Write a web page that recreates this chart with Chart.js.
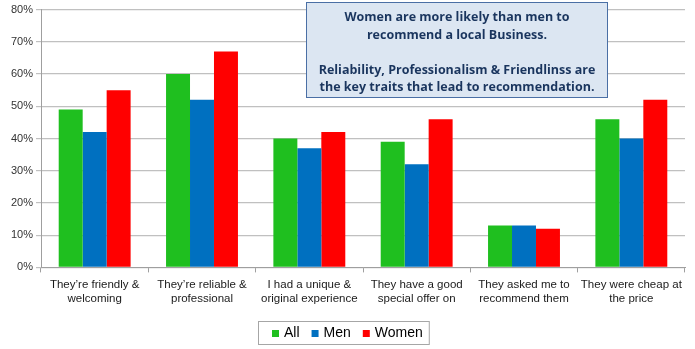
<!DOCTYPE html>
<html>
<head>
<meta charset="utf-8">
<script src="https://cdn.jsdelivr.net/npm/chart.js@4"></script>
<style>
  html, body { margin: 0; padding: 0; background: #fff; }
  #wrap { width: 695px; height: 349px; position: relative; }
</style>
</head>
<body>
<div id="wrap"><canvas id="c" width="695" height="349"></canvas></div>
<script>
// Reasons people give for recommending a local business
const categories = [
  ["They\u2019re friendly &", "welcoming"],
  ["They\u2019re reliable &", "professional"],
  ["I had a unique &", "original experience"],
  ["They have a good", "special offer on"],
  ["They asked me to", "recommend them"],
  ["They were cheap at", "the price"]
];
const seriesNames = ["All", "Men", "Women"];
const allValues   = [49, 60, 40, 39, 13, 46];
const menValues   = [42, 52, 37, 32, 13, 40];
const womenValues = [55, 67, 42, 46, 12, 52];
const yTicks = [0, 10, 20, 30, 40, 50, 60, 70, 80];
const noteLines = [
  "Women are more likely than men to",
  "recommend a local Business.",
  "",
  "Reliability, Professionalism & Friendlinss are",
  "the key traits that lead to recommendation."
];

const colors = ["#1FBF1F", "#0070C0", "#FF0000"];
const legendFont = "14px 'Liberation Sans', 'Open Sans', sans-serif";

// Callout box in the upper right and a framed legend below the axis
const decorations = {
  id: "decorations",
  afterDraw(chart) {
    const ctx = chart.ctx;

    // legend: square swatch + series name, centred under the chart
    ctx.save();
    ctx.font = legendFont;
    const sw = 7, gap = 5, itemGap = 12;
    const items = chart.data.datasets.map(d => ({
      text: d.label, color: d.backgroundColor, w: ctx.measureText(d.label).width
    }));
    const total = items.reduce((s, it) => s + sw + gap + it.w, 0) + itemGap * (items.length - 1);
    let lx = Math.round(chart.width / 2 - total / 2);
    const ly = 333;
    ctx.strokeStyle = "#A6A6A6";
    ctx.lineWidth = 1;
    ctx.strokeRect(lx - 13.5, ly - 11.5, total + 20, 23);
    ctx.textBaseline = "middle";
    ctx.textAlign = "left";
    items.forEach(it => {
      ctx.fillStyle = it.color;
      ctx.fillRect(lx, ly - 3, sw, sw);
      ctx.fillStyle = "#000";
      ctx.fillText(it.text, lx + sw + gap, ly);
      lx += sw + gap + it.w + itemGap;
    });
    ctx.restore();

    // note box
    const x = 306.5, y = 2.5, w = 301, h = 95;
    ctx.save();
    ctx.fillStyle = "#DCE6F2";
    ctx.fillRect(x, y, w, h);
    ctx.strokeStyle = "#4A6FA5";
    ctx.lineWidth = 1;
    ctx.strokeRect(x, y, w, h);
    ctx.fillStyle = "#1A355E";
    ctx.font = "bold 12.5px 'Open Sans', 'Liberation Sans', sans-serif";
    ctx.textAlign = "center";
    ctx.textBaseline = "middle";
    const lh = 17.5;
    noteLines.forEach((t, i) => {
      if (t) ctx.fillText(t, x + w / 2, y + 15 + i * lh);
    });
    ctx.restore();
  }
};

new Chart(document.getElementById("c"), {
  type: "bar",
  data: {
    labels: categories,
    datasets: [
      { label: seriesNames[0], data: allValues,   backgroundColor: colors[0] },
      { label: seriesNames[1], data: menValues,   backgroundColor: colors[1] },
      { label: seriesNames[2], data: womenValues, backgroundColor: colors[2] }
    ]
  },
  options: {
    responsive: false,
    animation: false,
    events: [],
    layout: { padding: { top: 2, right: 10, bottom: 37, left: 0 } },
    datasets: { bar: { categoryPercentage: 0.67, barPercentage: 1.0, borderWidth: 0 } },
    scales: {
      x: {
        offset: true,
        grid: {
          offset: true,
          drawOnChartArea: false,
          drawTicks: true,
          tickLength: 5,
          color: "#9F9F9F"
        },
        border: { color: "#9F9F9F", width: 1 },
        ticks: {
          color: "#1a1a1a",
          font: { family: "'Liberation Sans', 'Open Sans', sans-serif", size: 11.5 },
          maxRotation: 0,
          autoSkip: false,
          padding: 6
        }
      },
      y: {
        min: 0,
        max: 80,
        afterFit(scale) { scale.width = 41; },
        afterBuildTicks(scale) { scale.ticks = yTicks.map(v => ({ value: v })); },
        grid: { color: "#C0C0C0", lineWidth: 1.2, tickLength: 5 },
        border: { color: "#9F9F9F", width: 1 },
        ticks: {
          color: "#333",
          font: { family: "'Liberation Sans', 'Open Sans', sans-serif", size: 11 },
          padding: 3,
          callback: v => v + "%"
        }
      }
    },
    plugins: {
      tooltip: { enabled: false },
      legend: { display: false }
    }
  },
  plugins: [decorations]
});
</script>
</body>
</html>
